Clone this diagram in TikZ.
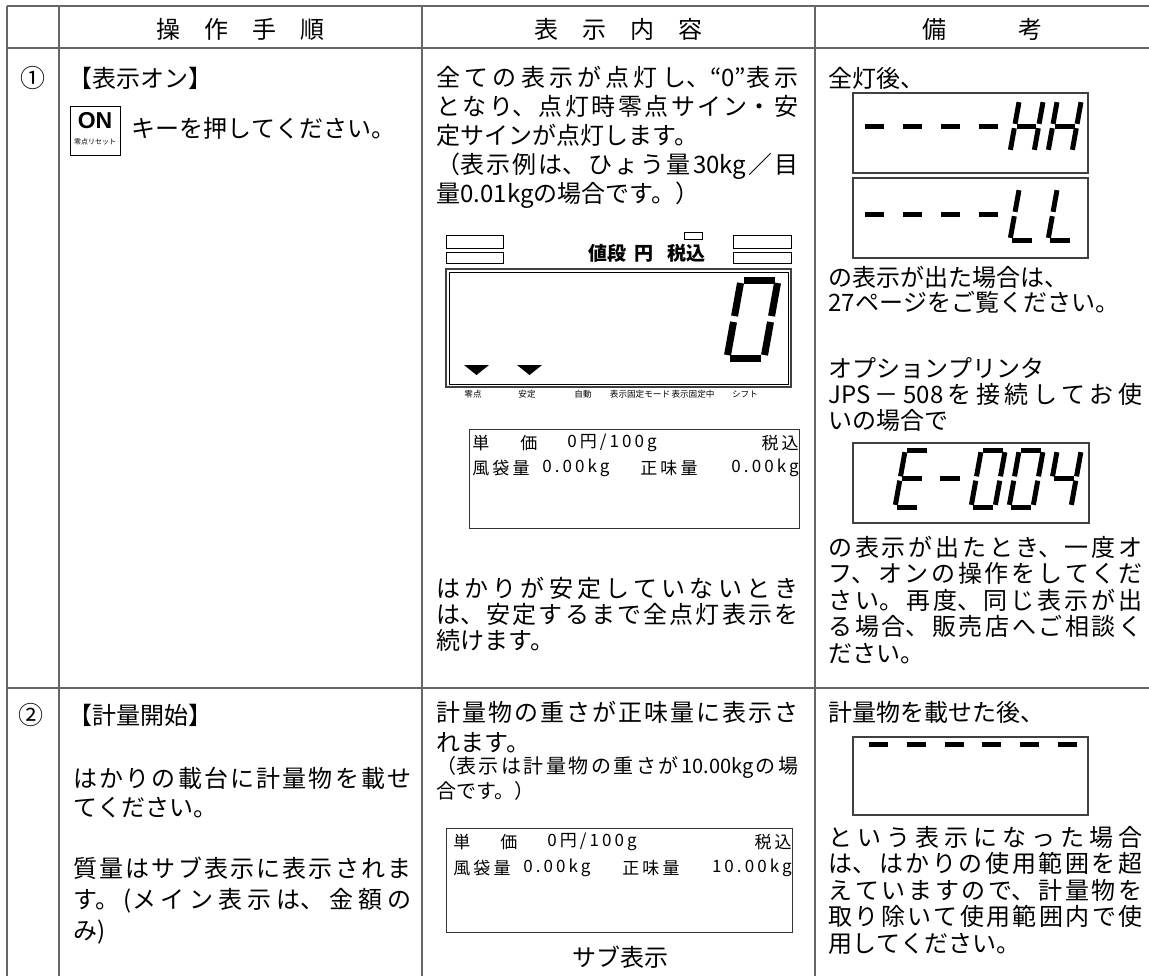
\documentclass[tikz,border=0pt]{standalone}
\usepackage{fontspec}
\setmainfont{Noto Sans CJK JP}
\newfontfamily\lcdfont[LetterSpace=18]{Noto Sans CJK JP}
\newfontfamily\keyfont{Liberation Sans}
\XeTeXlinebreaklocale "ja"
\XeTeXlinebreakskip=0pt plus 6pt
\setlength{\parindent}{0pt}

\tikzset{
  rule/.style={draw=black!60, line width=1pt},
  lcdbox/.style={draw=black!75, line width=0.8pt},
  digseg/.style={line width=2.5pt, shorten <=1.1pt, shorten >=1.1pt},
  sega/.style={insert path={(0,2)--(1,2)}},
  segb/.style={insert path={(1,2)--(1,1)}},
  segc/.style={insert path={(1,1)--(1,0)}},
  segd/.style={insert path={(0,0)--(1,0)}},
  sege/.style={insert path={(0,0)--(0,1)}},
  segf/.style={insert path={(0,1)--(0,2)}},
  segg/.style={insert path={(0,1)--(1,1)}},
}

\newcommand\segdigit[5][]{%
  \begin{scope}[shift={#2}, x=#3, y=#4, xslant=0.18]
    \foreach \s in {#5} \draw[digseg,#1,seg\s];
  \end{scope}}

\begin{document}
\begin{tikzpicture}[x=0.5pt, y=-0.5pt]
  \useasboundingbox (0,0) rectangle (1149,976);

  \draw[rule] (7,6) -- (1149,6) (7,48) -- (1149,48) (7,688) -- (1149,688)
    (7,6) -- (7,976) (59,6) -- (59,976) (422,6) -- (422,976) (815,6) -- (815,976);

  \begin{scope}[every node/.style={inner sep=0pt, font=\fontsize{12}{14}\selectfont}]
    \node (h1) at (240,29) {操　作　手　順};
    \node (h2) at (618,29) {表　示　内　容};
    \node (h3) at (982,29) {備　　　考};
    \node[font=\fontsize{12.5}{14}\selectfont] (n1) at (33,78) {①};
    \node[font=\fontsize{12.5}{14}\selectfont] (n2) at (31,715) {②};
    \node (subcap) at (620,957) {サブ表示};
  \end{scope}

  \begin{scope}[every node/.style={anchor=base west, inner sep=0pt, align=justify,
      font=\fontsize{12}{14.5}\selectfont}]
    \node[text width=169pt] (s1) at (68,87) {【表示オン】};
    \node[text width=140pt] (s1k) at (131,137) {キーを押してください。};
    \node[text width=181pt] (d1) at (436,86) {全ての表示が点灯し、“0”表示\linebreak
      となり、点灯時零点サイン・安\linebreak
      定サインが点灯します。\newline
      （表示例は、ひょう量30kg／目\linebreak
      量0.01kgの場合です。）};
    \node[text width=181pt, font=\fontsize{12}{13}\selectfont] (d1b) at (436,597)
      {はかりが安定していないとき\linebreak
      は、安定するまで全点灯表示を\linebreak
      続けます。};
    \node[text width=157pt] (r1) at (828,87) {全灯後、};
    \node[text width=157pt, font=\fontsize{12}{12.5}\selectfont] (r1b) at (828,286)
      {の表示が出た場合は、\newline 27ページをご覧ください。};
    \node[text width=157pt, font=\fontsize{12}{13}\selectfont] (r1c) at (828,377)
      {オプションプリンタ\newline JPS－508を接続してお使\linebreak いの場合で};
    \node[text width=157pt, font=\fontsize{12}{13.25}\selectfont] (r1d) at (828,556)
      {の表示が出たとき、一度オ\linebreak フ、オンの操作をしてくだ\linebreak
      さい。再度、同じ表示が出\linebreak る場合、販売店へご相談く\linebreak ださい。};
    \node[text width=169pt] (s2) at (68,724) {【計量開始】};
    \node[text width=169pt] (s2b) at (73,787) {はかりの載台に計量物を載せ\linebreak てください。};
    \node[text width=169pt, font=\fontsize{12}{15.5}\selectfont] (s2c) at (73,877)
      {質量はサブ表示に表示されま\linebreak す。(メイン表示は、金額の\linebreak み)};
    \node[text width=181pt, font=\fontsize{12}{15}\selectfont] (d2) at (436,721)
      {計量物の重さが正味量に表示さ\linebreak れます。};
    \node[text width=181pt, font=\fontsize{10}{12.5}\selectfont] (d2b) at (436,773)
      {（表示は計量物の重さが10.00kgの場\linebreak 合です。）};
    \node[text width=157pt] (r2) at (828,721) {計量物を載せた後、};
    \node[text width=157pt, font=\fontsize{12}{13.25}\selectfont] (r2b) at (828,846)
      {という表示になった場合\linebreak は、はかりの使用範囲を超\linebreak
      えていますので、計量物を\linebreak 取り除いて使用範囲内で使\linebreak 用してください。};
  \end{scope}

  \draw[thin] (70,106) rectangle (120,155);
  \node[inner sep=0pt, font=\keyfont\bfseries\fontsize{11.5}{12}\selectfont] (on) at (95,121) {ON};
  \node[inner sep=0pt, font=\fontsize{3.5}{4}\selectfont] (onsub) at (95,142) {零点リセット};

  \begin{scope}[every node/.style={inner sep=0pt, font=\fontsize{4.3}{5}\selectfont}]
    \draw[thin] (446,235) rectangle (503,248) (446,252) rectangle (503,263)
      (733,235) rectangle (791,248) (733,252) rectangle (791,263)
      (684,232) rectangle (702,239);
    \node[anchor=west, font=\bfseries\fontsize{9.5}{11}\selectfont] (price) at (588,253)
      {値段\hspace{4pt}円\hspace{7pt}税込};
    \draw[lcdbox] (446,269) rectangle (791,387);
    \draw[thin] (449,272) rectangle (788,384);
    \segdigit[line width=3.5pt, shorten <=1.5pt, shorten >=1.5pt]{(727,358)}{18.5pt}{19.5pt}{a,b,c,d,e,f}
    \fill (464,365) -- (489,365) -- (476.5,375) -- cycle;
    \fill (517,365) -- (542,365) -- (529.5,375) -- cycle;
    \node (m1) at (473,394) {零点};
    \node (m2) at (527,394) {安定};
    \node (m3) at (583,394) {自動};
    \node (m4) at (640,394) {表示固定モード};
    \node (m5) at (693,394) {表示固定中};
    \node (m6) at (745,394) {シフト};
  \end{scope}

  \begin{scope}[every node/.style={anchor=west, inner sep=0pt,
      font=\lcdfont\fontsize{8.5}{10}\selectfont}]
    \draw[draw=black!80] (469,429) rectangle (799,528);
    \node (a1) at (472,443) {単};
    \node (a2) at (520,443) {価};
    \node (a3) at (567,443) {0円/100g};
    \node[anchor=east] (a4) at (799,443) {税込};
    \node (a5) at (472,468) {風袋量};
    \node (a6) at (542,468) {0.00kg};
    \node (a7) at (640,468) {正味量};
    \node[anchor=east] (a8) at (799,468) {0.00kg};

    \draw[draw=black!80] (446,828) rectangle (792,932);
    \node (b1) at (453,842) {単};
    \node (b2) at (500,842) {価};
    \node (b3) at (547,842) {0円/100g};
    \node[anchor=east] (b4) at (792,842) {税込};
    \node (b5) at (453,868) {風袋量};
    \node (b6) at (523,868) {0.00kg};
    \node (b7) at (622,868) {正味量};
    \node[anchor=east] (b8) at (792,868) {10.00kg};
  \end{scope}

  \draw[lcdbox] (853,93) rectangle (1088,173);
  \foreach \x in {858,896,934,972} {\segdigit{(\x,152)}{12pt}{13pt}{g}}
  \segdigit{(1010,152)}{12pt}{13pt}{b,c,e,f,g}
  \segdigit{(1048,152)}{12pt}{13pt}{b,c,e,f,g}

  \draw[lcdbox] (853,178) rectangle (1088,258);
  \foreach \x in {858,896,934,972} {\segdigit{(\x,240)}{12pt}{13pt}{g}}
  \segdigit{(1010,240)}{12pt}{13pt}{d,e,f}
  \segdigit{(1048,240)}{12pt}{13pt}{d,e,f}

  \draw[lcdbox] (853,443) rectangle (1089,523);
  \segdigit{(895,507)}{12pt}{14.25pt}{a,d,e,f,g}
  \segdigit{(933,507)}{12pt}{14.25pt}{g}
  \segdigit{(971,507)}{12pt}{14.25pt}{a,b,c,d,e,f}
  \segdigit{(1009,507)}{12pt}{14.25pt}{a,b,c,d,e,f}
  \segdigit{(1047,507)}{12pt}{14.25pt}{b,c,f,g}

  \draw[lcdbox] (853,737) rectangle (1088,815);
  \foreach \x in {857,895,933,970,1008,1046} {\segdigit{(\x,796)}{12pt}{13pt}{a}}

\end{tikzpicture}
\end{document}
